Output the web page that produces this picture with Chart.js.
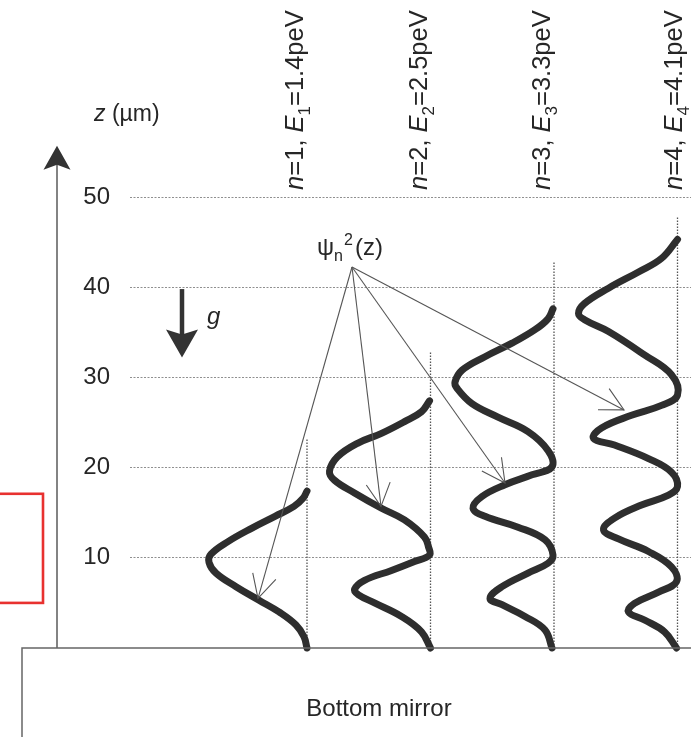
<!DOCTYPE html>
<html><head><meta charset="utf-8">
<script src="https://cdn.jsdelivr.net/npm/chart.js@4/dist/chart.umd.min.js"></script>
<style>html,body{margin:0;padding:0;background:#fff;overflow:hidden}</style>
</head><body>
<canvas id="c" width="691" height="737"></canvas>
<script>
// ---- data (z in µm, psi² in arbitrary units) ----
const zTicks = [10, 20, 30, 40, 50];
const stateNames = ['n=1', 'n=2', 'n=3', 'n=4'];
const stateEnergies = ['1.4', '2.5', '3.3', '4.1']; // peV
const stateBaselines = [1.77, 3.005, 4.24, 5.475];
const baselineTops = [23.2, 32.8, 42.8, 47.8];

const z1 = [0, 1.25, 2.55, 4.0, 5.3, 6.8, 8.3, 9.5, 10.4, 11.8, 13.3, 14.6, 15.7, 16.6, 17.4];
const psi1 = [0, 0.03, 0.11, 0.28, 0.48, 0.71, 0.91, 0.98, 0.96, 0.79, 0.55, 0.32, 0.13, 0.04, 0.0];

const z2 = [0, 1.8, 3.5, 5.0, 5.9, 6.5, 7.5, 8.6, 9.6, 10.3, 11.2, 12.3, 14.2, 15.5, 17.2, 18.6, 19.6, 21.2, 22.7, 23.8, 25.1, 26.2, 27.4];
const psi2 = [0, 0.09, 0.29, 0.56, 0.72, 0.76, 0.66, 0.39, 0.16, 0.01, 0.02, 0.06, 0.26, 0.49, 0.76, 0.96, 1.01, 0.93, 0.73, 0.49, 0.26, 0.09, 0.01];

const z3 = [0, 2.0, 3.5, 4.8, 5.5, 6.8, 8.3, 9.4, 10.3, 12.0, 13.4, 14.6, 15.5, 16.8, 18.1, 19.2, 20.1, 21.9, 24.0, 25.6, 27.1, 28.8, 29.5, 30.8, 32.3, 33.8, 35.3, 36.5, 37.6];
const psi3 = [0.02, 0.09, 0.29, 0.52, 0.64, 0.52, 0.26, 0.06, 0.01, 0.09, 0.36, 0.69, 0.81, 0.72, 0.49, 0.22, 0.02, 0.06, 0.26, 0.56, 0.82, 0.97, 0.99, 0.92, 0.69, 0.42, 0.19, 0.06, 0.01];

const z4 = [0, 1.8, 3.1, 4.0, 4.95, 6.2, 7.35, 9.0, 10.7, 12.1, 13.1, 14.4, 15.85, 16.95, 17.9, 19.5, 21.0, 22.5, 23.25, 24.4, 25.8, 26.9, 28.05, 30.3, 32.5, 35.1, 36.4, 37.1, 38.2, 39.9, 41.7, 43.2, 45.3];
const psi4 = [0.01, 0.13, 0.33, 0.49, 0.43, 0.19, 0.01, 0.06, 0.29, 0.59, 0.74, 0.63, 0.36, 0.09, 0.0, 0.06, 0.29, 0.63, 0.84, 0.76, 0.46, 0.16, 0.0, 0.06, 0.33, 0.69, 0.93, 0.99, 0.93, 0.69, 0.39, 0.16, 0.0];

const zSets = [z1, z2, z3, z4];
const psiSets = [psi1, psi2, psi3, psi4];

// annotation anchors (data units: x = arb., z = µm)
const axisX = -0.73, axisTopZ = 55.7;
const psiOrigin = {x: 2.22, z: 42.25};
const psiTips = [{x: 1.28, z: 5.5}, {x: 2.51, z: 15.7}, {x: 3.75, z: 18.3}, {x: 4.94, z: 26.4}];
const psiLabelPos = {x: 1.87, z: 43.6};
const gArrow = {x: 0.52, z0: 39.8, z1: 32.2};
const gLabelPos = {x: 0.77, z: 35.9};
const zLabelPos = {x: -0.36, z: 58.4};
const stateLabelX = [1.73, 2.965, 4.2, 5.515];
const stateLabelZ = 50.8;
const mirror = {x0: -1.08, x1: 5.8, z0: 0, z1: -10, textX: 2.49, textZ: -7.5};
const redBox = {x0: -1.6, x1: -0.87, z0: 5.0, z1: 17.1};

const FONT = "'Liberation Sans', Arial, Helvetica, sans-serif";
const INK = '#262626';

const datasets = [];
stateBaselines.forEach((b, i) => {
  datasets.push({
    type: 'line', data: [{x: b, y: 0}, {x: b, y: baselineTops[i]}],
    borderColor: '#555', borderWidth: 1.3, borderDash: [1.5, 1.5],
    pointRadius: 0, clip: false, order: 3
  });
});
zSets.forEach((zs, i) => {
  datasets.push({
    type: 'line', label: stateNames[i],
    data: zs.map((z, k) => ({x: stateBaselines[i] - psiSets[i][k], y: z})),
    borderColor: '#2e2e2e', borderWidth: 7, tension: 0.4,
    borderCapStyle: 'round', borderJoinStyle: 'round',
    pointRadius: 0, clip: false, order: 1
  });
});
datasets.push({
  type: 'line', data: [{x: axisX, y: 0}, {x: axisX, y: axisTopZ - 2}],
  borderColor: '#5a5a5a', borderWidth: 1.5, pointRadius: 0, clip: false, order: 2
});

function arrowHead(ctx, tx, ty, fx, fy, len, ang) {
  const a = Math.atan2(fy - ty, fx - tx);
  ctx.beginPath();
  ctx.moveTo(tx + len * Math.cos(a - ang), ty + len * Math.sin(a - ang));
  ctx.lineTo(tx, ty);
  ctx.lineTo(tx + len * Math.cos(a + ang), ty + len * Math.sin(a + ang));
  ctx.stroke();
}
function filledHead(ctx, tx, ty, dir, w, h, notch) {
  ctx.beginPath();
  ctx.moveTo(tx, ty);
  ctx.lineTo(tx - w / 2, ty - dir * h);
  ctx.lineTo(tx, ty - dir * (h - notch));
  ctx.lineTo(tx + w / 2, ty - dir * h);
  ctx.closePath();
  ctx.fill();
}
function richText(ctx, parts, size) {
  let x = 0;
  parts.forEach(p => {
    const s = p.sub || p.sup ? Math.round(size * 0.68) : size;
    ctx.font = (p.italic ? 'italic ' : '') + s + 'px ' + FONT;
    const dy = p.sub ? size * 0.28 : (p.sup ? -size * 0.42 : 0);
    ctx.fillText(p.t, x, dy);
    x += ctx.measureText(p.t).width + (p.gap || 0);
  });
}

const annotations = {
  id: 'annotations',
  afterDatasetsDraw(chart) {
    const ctx = chart.ctx, xs = chart.scales.x, ys = chart.scales.y;
    const X = v => xs.getPixelForValue(v), Y = v => ys.getPixelForValue(v);
    ctx.save();
    ctx.strokeStyle = '#555'; ctx.lineWidth = 1.1;
    const ox = X(psiOrigin.x), oy = Y(psiOrigin.z);
    psiTips.forEach(t => {
      const tx = X(t.x), ty = Y(t.z);
      ctx.beginPath(); ctx.moveTo(ox, oy); ctx.lineTo(tx, ty); ctx.stroke();
      arrowHead(ctx, tx, ty, ox, oy, 26, 0.48);
    });
    ctx.fillStyle = '#333';
    filledHead(ctx, X(axisX), Y(axisTopZ), -1, 27, 24, 5);
    ctx.strokeStyle = '#333'; ctx.lineWidth = 4.5;
    ctx.beginPath(); ctx.moveTo(X(gArrow.x), Y(gArrow.z0)); ctx.lineTo(X(gArrow.x), Y(gArrow.z1) - 20); ctx.stroke();
    filledHead(ctx, X(gArrow.x), Y(gArrow.z1), 1, 32, 28, 5);
    ctx.strokeStyle = '#666'; ctx.lineWidth = 1.5;
    ctx.beginPath();
    ctx.moveTo(X(mirror.x0), Y(mirror.z1)); ctx.lineTo(X(mirror.x0), Y(mirror.z0)); ctx.lineTo(X(mirror.x1), Y(mirror.z0));
    ctx.stroke();
    ctx.strokeStyle = '#e8312f'; ctx.lineWidth = 2.6;
    ctx.strokeRect(X(redBox.x0), Y(redBox.z1), X(redBox.x1) - X(redBox.x0), Y(redBox.z0) - Y(redBox.z1));
    ctx.fillStyle = INK; ctx.textBaseline = 'alphabetic'; ctx.textAlign = 'left';
    ctx.save(); ctx.translate(X(mirror.textX), Y(mirror.textZ));
    ctx.font = '24px ' + FONT; ctx.textAlign = 'center'; ctx.fillText('Bottom mirror', 0, 0); ctx.restore();
    ctx.save(); ctx.translate(X(zLabelPos.x), Y(zLabelPos.z));
    richText(ctx, [{t: 'z', italic: true}, {t: ' (µm)'}], 23); ctx.restore();
    ctx.save(); ctx.translate(X(gLabelPos.x), Y(gLabelPos.z));
    richText(ctx, [{t: 'g', italic: true}], 24); ctx.restore();
    ctx.save(); ctx.translate(X(psiLabelPos.x), Y(psiLabelPos.z));
    ctx.font = '24px ' + FONT;
    ctx.fillText('ψ', 0, 0);
    const wpsi = ctx.measureText('ψ').width;
    ctx.font = '16px ' + FONT;
    ctx.fillText('n', wpsi, 6);
    const wn = ctx.measureText('n').width;
    ctx.fillText('2', wpsi + wn + 1, -10);
    ctx.font = '24px ' + FONT;
    ctx.fillText('(z)', wpsi + wn + 12, 0);
    ctx.restore();
    stateLabelX.forEach((lx, i) => {
      ctx.save(); ctx.translate(X(lx), Y(stateLabelZ)); ctx.rotate(-Math.PI / 2);
      richText(ctx, [{t: 'n', italic: true}, {t: '=' + (i + 1) + ', '}, {t: 'E', italic: true},
        {t: String(i + 1), sub: true}, {t: '=' + stateEnergies[i] + 'peV'}], 25.5);
      ctx.restore();
    });
    ctx.restore();
  }
};

new Chart(document.getElementById('c'), {
  type: 'scatter',
  data: {datasets},
  options: {
    responsive: false, animation: false, devicePixelRatio: 1,
    layout: {padding: {top: 152, bottom: 89, left: 0, right: 0}},
    plugins: {legend: {display: false}, tooltip: {enabled: false}},
    scales: {
      x: {type: 'linear', display: false, min: 0, max: 5.61},
      y: {
        type: 'linear', min: 0, max: 55,
        afterBuildTicks: s => { s.ticks = zTicks.map(v => ({value: v})); },
        afterFit: s => { s.width = 130; },
        ticks: {padding: 20, color: INK, font: {size: 24, family: FONT}},
        grid: {color: '#8f8f8f', lineWidth: 1, drawTicks: false},
        border: {display: false, dash: [2, 1.5]}
      }
    }
  },
  plugins: [annotations]
});
</script>
</body></html>
